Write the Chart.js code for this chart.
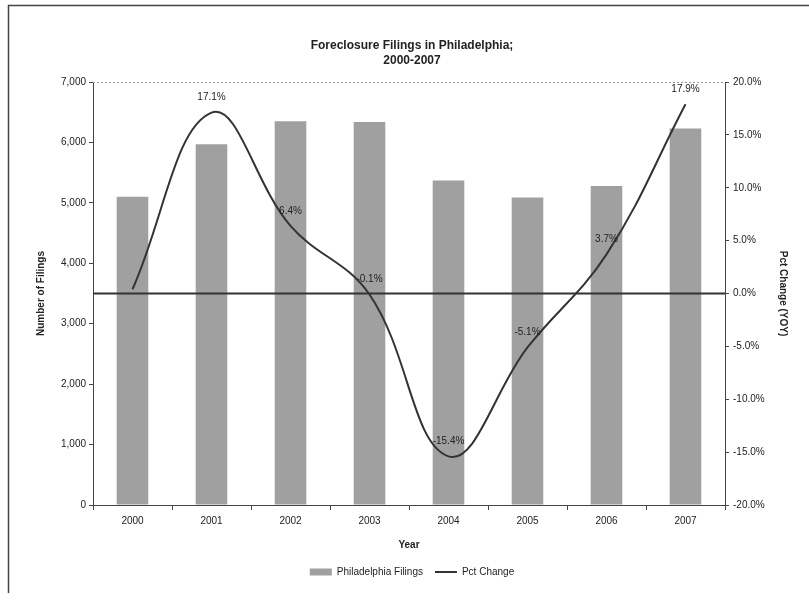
<!DOCTYPE html>
<html>
<head>
<meta charset="utf-8">
<title>Foreclosure Filings in Philadelphia</title>
<script src="https://cdn.jsdelivr.net/npm/chart.js@4.4.1/dist/chart.umd.min.js"></script>
<style>
    html, body { margin: 0; padding: 0; background: #ffffff; }
    #wrap { width: 809px; height: 603px; position: relative; }
</style>
</head>
<body>
<div id="wrap"><canvas id="myChart" width="809" height="603"></canvas></div>
<script>
// Chart data
const years = ['2000', '2001', '2002', '2003', '2004', '2005', '2006', '2007'];
const filings = [5100, 5970, 6350, 6340, 5370, 5090, 5280, 6230];
const pctChange = [0.4, 17.1, 6.4, -0.1, -15.4, -5.1, 3.7, 17.9];
const filingTicks = [0, 1000, 2000, 3000, 4000, 5000, 6000, 7000];
const pctTicks = [-20, -15, -10, -5, 0, 5, 10, 15, 20];

const FONT = '"Liberation Sans", Arial, sans-serif';
const INK = '#222222';

document.addEventListener('DOMContentLoaded', function() {
    initializeChart();
});

// Outer frame of the chart (only left and top edges show in the scan)
const framePlugin = {
    id: 'frame',
    beforeDraw(chart) {
        const c = chart.ctx;
        c.save();
        c.strokeStyle = '#444';
        c.lineWidth = 1.5;
        c.beginPath();
        c.moveTo(8.5, chart.height - 10);
        c.lineTo(8.5, 5.5);
        c.lineTo(chart.width, 5.5);
        c.stroke();
        c.restore();
    }
};

// Zero line on the pct axis and top edge of the plot area, drawn over the bars
const refLinesPlugin = {
    id: 'refLines',
    beforeDatasetsDraw(chart) {
        const a = chart.chartArea;
        const c = chart.ctx;
        c.save();
        c.strokeStyle = '#999';
        c.lineWidth = 1;
        c.setLineDash([2, 2]);
        c.beginPath();
        c.moveTo(a.left, a.top + 0.5);
        c.lineTo(a.right, a.top + 0.5);
        c.stroke();
        c.restore();
    },
    afterDatasetDraw(chart, args) {
        if (args.index !== 0) return;
        const a = chart.chartArea;
        const y = chart.scales.y2.getPixelForValue(0);
        const c = chart.ctx;
        c.save();
        c.strokeStyle = '#333';
        c.lineWidth = 2;
        c.beginPath();
        c.moveTo(a.left, y);
        c.lineTo(a.right, y);
        c.stroke();
        c.restore();
    }
};

// Percent labels above the line points
const pctLabelPlugin = {
    id: 'pctLabels',
    afterDatasetsDraw(chart) {
        const meta = chart.getDatasetMeta(1);
        const c = chart.ctx;
        c.save();
        c.font = '10px ' + FONT;
        c.fillStyle = INK;
        c.textAlign = 'center';
        c.textBaseline = 'middle';
        meta.data.forEach((pt, i) => {
            if (i === 0) return; // no label on the first year in the original
            c.fillText(pctChange[i].toFixed(1) + '%', pt.x, pt.y - 15);
        });
        c.restore();
    }
};

function initializeChart() {
    const ctx = document.getElementById('myChart');
    new Chart(ctx, {
        type: 'bar',
        data: {
            labels: years,
            datasets: [
                {
                    type: 'bar',
                    label: 'Philadelphia Filings',
                    data: filings,
                    backgroundColor: '#a0a0a0',
                    borderWidth: 0,
                    barPercentage: 0.4,
                    categoryPercentage: 1.0,
                    yAxisID: 'y',
                    order: 1,
                    pointStyle: 'rect'
                },
                {
                    type: 'line',
                    label: 'Pct Change',
                    data: pctChange,
                    borderColor: '#333333',
                    backgroundColor: '#333333',
                    borderWidth: 2,
                    pointRadius: 0,
                    tension: 0.4,
                    fill: false,
                    yAxisID: 'y2',
                    order: 0,
                    pointStyle: 'line'
                }
            ]
        },
        options: {
            responsive: false,
            animation: false,
            layout: {
                padding: { left: 35, right: 20, top: 28, bottom: 16 }
            },
            plugins: {
                title: {
                    display: true,
                    text: ['Foreclosure Filings in Philadelphia;', '2000-2007'],
                    color: INK,
                    font: { family: FONT, size: 12, weight: 'bold', lineHeight: 1.25 },
                    padding: { top: 10, bottom: 14 }
                },
                legend: {
                    position: 'bottom',
                    labels: {
                        usePointStyle: true,
                        pointStyleWidth: 22,
                        boxHeight: 7,
                        color: INK,
                        font: { family: FONT, size: 10 },
                        padding: 12,
                        sort: (a, b) => a.datasetIndex - b.datasetIndex
                    }
                },
                tooltip: { enabled: false }
            },
            scales: {
                x: {
                    afterFit(scale) { scale.height = 50; },
                    grid: {
                        drawOnChartArea: false,
                        offset: true,
                        tickLength: 5,
                        tickColor: '#444'
                    },
                    border: { color: '#444', width: 1 },
                    ticks: {
                        color: INK,
                        font: { family: FONT, size: 10 },
                        padding: 5
                    },
                    title: {
                        display: true,
                        text: 'Year',
                        color: INK,
                        font: { family: FONT, size: 10, weight: 'bold' },
                        padding: { top: 4 }
                    }
                },
                y: {
                    position: 'left',
                    min: 0,
                    max: 7000,
                    afterFit(scale) { scale.width = 58; },
                    afterBuildTicks(scale) {
                        scale.ticks = filingTicks.map(v => ({ value: v }));
                    },
                    grid: {
                        drawOnChartArea: false,
                        tickLength: 4,
                        tickColor: '#444'
                    },
                    border: { color: '#444', width: 1 },
                    ticks: {
                        color: INK,
                        font: { family: FONT, size: 10 },
                        padding: 3,
                        callback: v => v.toLocaleString('en-US')
                    },
                    title: {
                        display: true,
                        text: 'Number of Filings',
                        color: INK,
                        font: { family: FONT, size: 10, weight: 'bold' },
                        padding: 0
                    }
                },
                y2: {
                    position: 'right',
                    min: -20,
                    max: 20,
                    afterFit(scale) { scale.width = 64; },
                    afterBuildTicks(scale) {
                        scale.ticks = pctTicks.map(v => ({ value: v }));
                    },
                    grid: {
                        drawOnChartArea: false,
                        tickLength: 4,
                        tickColor: '#444'
                    },
                    border: { color: '#444', width: 1 },
                    ticks: {
                        color: INK,
                        font: { family: FONT, size: 10 },
                        padding: 4,
                        callback: v => v.toFixed(1) + '%'
                    },
                    title: {
                        display: true,
                        text: 'Pct Change (YOY)',
                        color: INK,
                        font: { family: FONT, size: 10, weight: 'bold' },
                        padding: 0
                    }
                }
            }
        },
        plugins: [framePlugin, refLinesPlugin, pctLabelPlugin]
    });
}
</script>
</body>
</html>
